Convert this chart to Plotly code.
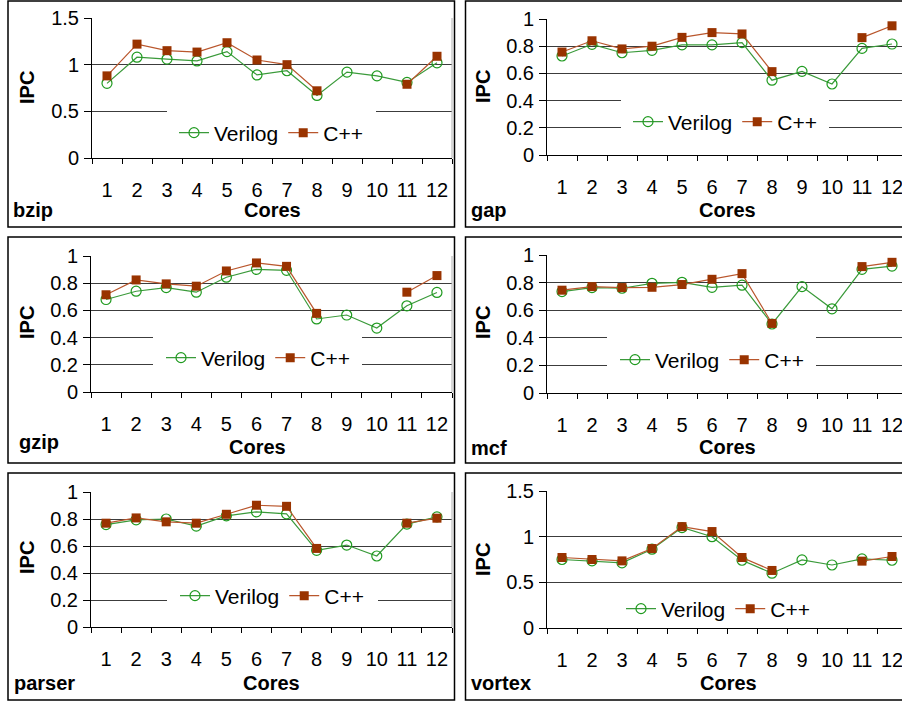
import plotly.graph_objects as go

W, H = 902, 702

cores = [str(i) for i in range(1, 13)]
benchmarks = ["bzip", "gap", "gzip", "mcf", "parser", "vortex"]

verilog_bzip = [0.80, 1.08, 1.06, 1.04, 1.14, 0.89, 0.935, 0.67, 0.92, 0.88, 0.81, 1.02]
cpp_bzip = [0.88, 1.22, 1.15, 1.135, 1.235, 1.05, 1.00, 0.72, None, None, 0.79, 1.09]

verilog_gap = [0.728, 0.814, 0.752, 0.77, 0.81, 0.81, 0.826, 0.55, 0.615, 0.522, 0.784, 0.816]
cpp_gap = [0.757, 0.84, 0.78, 0.80, 0.865, 0.90, 0.89, 0.613, None, None, 0.863, 0.95]

verilog_gzip = [0.68, 0.741, 0.768, 0.734, 0.844, 0.902, 0.895, 0.537, 0.566, 0.47, 0.634, 0.732]
cpp_gzip = [0.715, 0.824, 0.795, 0.778, 0.89, 0.949, 0.924, 0.578, None, None, 0.734, 0.856]

verilog_mcf = [0.735, 0.764, 0.759, 0.795, 0.802, 0.766, 0.781, 0.50, 0.771, 0.61, 0.896, 0.92]
cpp_mcf = [0.745, 0.771, 0.764, 0.766, 0.786, 0.824, 0.865, 0.504, None, None, 0.916, 0.947]

verilog_parser = [0.759, 0.794, 0.80, 0.747, 0.823, 0.853, 0.838, 0.568, 0.607, 0.526, 0.762, 0.816]
cpp_parser = [0.769, 0.808, 0.779, 0.769, 0.835, 0.902, 0.894, 0.582, None, None, 0.769, 0.806]

verilog_vortex = [0.75, 0.735, 0.713, 0.863, 1.10, 1.00, 0.742, 0.60, 0.746, 0.69, 0.757, 0.742]
cpp_vortex = [0.772, 0.75, 0.735, 0.87, 1.11, 1.056, 0.772, 0.63, None, None, 0.732, 0.783]

verilog_all = [verilog_bzip, verilog_gap, verilog_gzip, verilog_mcf, verilog_parser, verilog_vortex]
cpp_all = [cpp_bzip, cpp_gap, cpp_gzip, cpp_mcf, cpp_parser, cpp_vortex]

y_max = [1.5, 1.0, 1.0, 1.0, 1.0, 1.5]
y_dtick = [0.5, 0.2, 0.2, 0.2, 0.2, 0.5]

FONT = "Liberation Sans, Arial, sans-serif"
FS = 20
LFS = 21
GREEN_LINE = "#3a9a3a"
GREEN_MK = "#1f9a1f"
RED_LINE = "#b9562c"
RED_MK = "#993300"

# plot-area pixel geometry (left, right, top, bottom)
areas = [
    (92, 452, 18, 158),
    (547, 907, 19, 155),
    (91, 452, 256, 392),
    (547, 907, 255, 393),
    (91, 452, 492, 627),
    (547, 907, 491, 628),
]
boxes = [
    (8, 454.5, 1, 227),
    (465.5, 905, 1, 227),
    (8, 454.5, 237, 463),
    (465.5, 905, 237, 463),
    (8, 454.5, 473, 700),
    (465.5, 905, 473, 700),
]
legend_pos = [(271, 133), (725, 122), (258, 358), (712, 360), (272, 596), (718, 609)]
# white legend backgrounds that hide the gridlines (left, right, top, bottom)
legend_bg = [
    (167, 376, 106, 150),
    (621, 829, 97, 137),
    (153, 362, 333, 373),
    (607, 816, 334, 375),
    (167, 378, 582, 612),
    (620, 818, 592, 626),
]
cores_pos = [(272, 210), (727, 210), (257, 447), (727, 447), (271, 683), (728, 683)]
name_pos = [(11, 210), (469, 210), (17, 442), (469, 448), (12, 683), (469, 683)]
ipc_pos = [(27, 88), (483, 87), (27, 323), (483, 323), (27, 558), (483, 560)]

def px(x):
    return x / W

def py(y):
    return 1 - y / H

fig = go.Figure()
layout = dict(
    width=W, height=H, margin=dict(l=0, r=0, t=0, b=0, pad=0, autoexpand=False),
    paper_bgcolor="white", plot_bgcolor="white",
    font=dict(family=FONT, size=FS, color="black"),
    showlegend=True,
)
shapes = []
annotations = []

for i in range(6):
    n = "" if i == 0 else str(i + 1)
    lg = "legend" if i == 0 else "legend" + str(i + 1)
    l, r, t, b = areas[i]
    r_vis = min(r, W)
    cat_per_px = 12.0 / (r - l)
    xr_hi = -0.5 + (r_vis - l) * cat_per_px
    fig.add_trace(go.Scatter(
        x=cores, y=verilog_all[i], name="Verilog", mode="lines+markers",
        xaxis="x" + n, yaxis="y" + n, legend=lg, cliponaxis=False,
        line=dict(color=GREEN_LINE, width=1.2),
        marker=dict(symbol="circle-open", size=10, color=GREEN_MK, line=dict(width=1.2)),
    ))
    fig.add_trace(go.Scatter(
        x=cores, y=cpp_all[i], name="C++", mode="lines+markers",
        xaxis="x" + n, yaxis="y" + n, legend=lg, cliponaxis=False,
        line=dict(color=RED_LINE, width=1.2),
        marker=dict(symbol="square", size=9, color=RED_MK),
    ))
    layout["xaxis" + n] = dict(
        domain=[px(l), px(r_vis)], anchor="y" + n, type="category",
        range=[-0.5, xr_hi], showgrid=False, zeroline=False,
        showline=True, linecolor="black", linewidth=1,
        ticks="outside", ticklen=5, tickcolor="black", tickson="boundaries",
        ticklabelstandoff=14, tickfont=dict(size=FS, family=FONT), tickangle=0,
        automargin=False, fixedrange=True,
    )
    layout["yaxis" + n] = dict(
        domain=[py(b), py(t)], anchor="x" + n, range=[0, y_max[i]],
        dtick=y_dtick[i], tick0=0, showgrid=True, gridcolor="#3c3c3c", gridwidth=1,
        zeroline=False, showline=True, linecolor="black", linewidth=1,
        ticks="outside", ticklen=7, tickcolor="black",
        tickfont=dict(size=FS, family=FONT), ticklabelstandoff=1,
        tickformat="~g", automargin=False, fixedrange=True,
    )
    lx, ly = legend_pos[i]
    layout[lg] = dict(
        x=px(lx), y=py(ly), xanchor="center", yanchor="middle",
        orientation="h", bgcolor="rgba(0,0,0,0)", borderwidth=0,
        font=dict(size=LFS, family=FONT), itemwidth=30,
        traceorder="normal",
    )
    # white area behind the legend, hiding gridlines
    gl, gr, gt, gb = legend_bg[i]
    shapes.append(dict(type="rect", xref="paper", yref="paper",
                       x0=px(gl), x1=px(gr), y0=py(gb), y1=py(gt),
                       fillcolor="white", line=dict(width=0), layer="above"))
    # right border of plot area
    if r <= W:
        shapes.append(dict(type="line", xref="paper", yref="paper",
                           x0=px(r), x1=px(r), y0=py(b), y1=py(t),
                           line=dict(color="#b0b0b0", width=1)))
    # panel box
    bl, br, bt, bb = boxes[i]
    shapes.append(dict(type="rect", xref="paper", yref="paper",
                       x0=px(bl), x1=px(br), y0=py(bb), y1=py(bt),
                       line=dict(color="black", width=1.5), layer="below"))
    cx, cy = cores_pos[i]
    annotations.append(dict(text="<b>Cores</b>", x=px(cx), y=py(cy), xref="paper", yref="paper",
                            xanchor="center", yanchor="middle", showarrow=False,
                            font=dict(size=FS, family=FONT)))
    nx, ny = name_pos[i]
    annotations.append(dict(text="<b>" + benchmarks[i] + "</b>", x=px(nx), y=py(ny), xref="paper", yref="paper",
                            xanchor="left", yanchor="middle", showarrow=False,
                            font=dict(size=FS, family=FONT)))
    ix, iy = ipc_pos[i]
    annotations.append(dict(text="<b>IPC</b>", x=px(ix), y=py(iy), xref="paper", yref="paper",
                            xanchor="center", yanchor="middle", showarrow=False, textangle=-90,
                            font=dict(size=FS, family=FONT)))

layout["shapes"] = shapes
layout["annotations"] = annotations
fig.update_layout(**layout)
fig.write_html(
    "out.html",
    config={"displayModeBar": False},
    post_script="document.body.style.margin='0';document.body.style.overflow='hidden';",
)
